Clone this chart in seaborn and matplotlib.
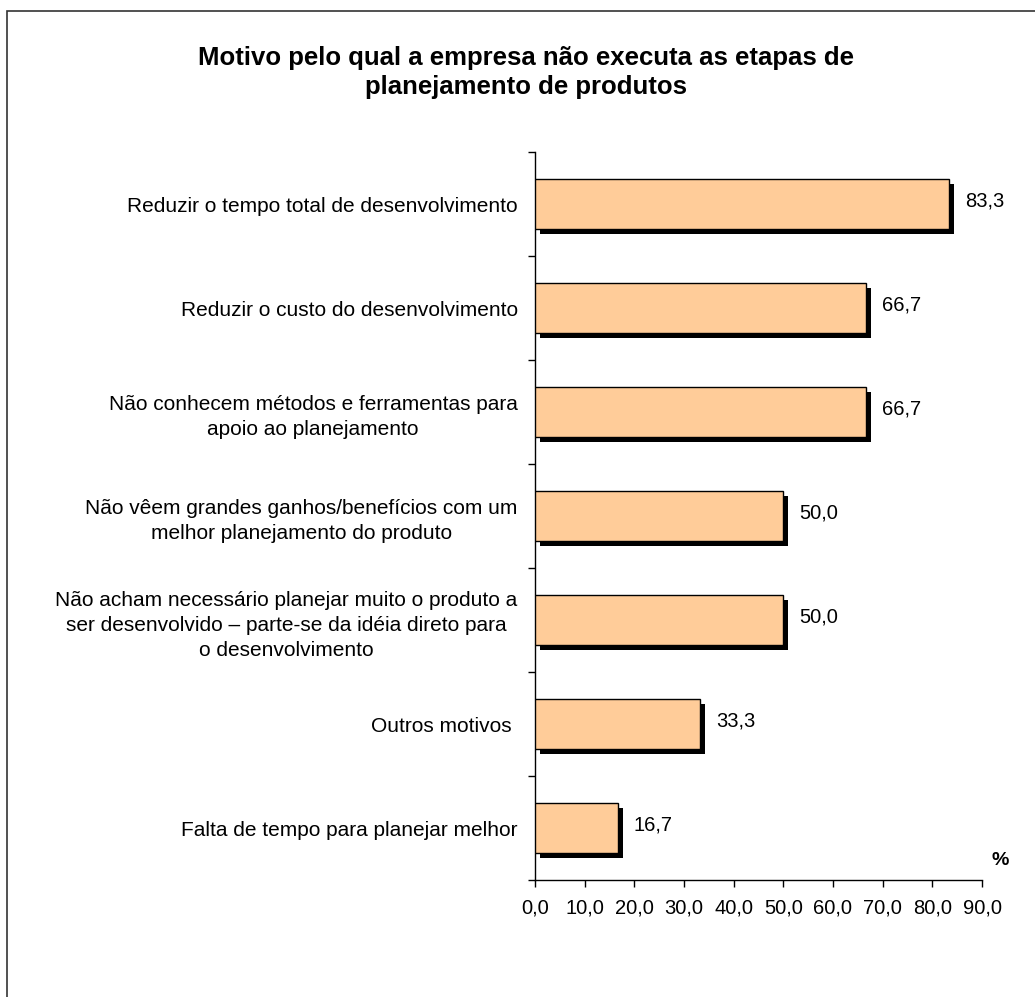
import matplotlib
matplotlib.use("Agg")
import matplotlib.pyplot as plt
from matplotlib.patches import Rectangle
from matplotlib.transforms import ScaledTranslation
from matplotlib.ticker import FixedLocator
import seaborn as sns
import pandas as pd
import numpy as np

categories = [
    "Reduzir o tempo total de desenvolvimento",
    "Reduzir o custo do desenvolvimento",
    "Não conhecem métodos e ferramentas para\napoio ao planejamento",
    "Não vêem grandes ganhos/benefícios com um\nmelhor planejamento do produto",
    "Não acham necessário planejar muito o produto a\nser desenvolvido – parte-se da idéia direto para\no desenvolvimento",
    "Outros motivos ",
    "Falta de tempo para planejar melhor",
]
values = [83.3, 66.7, 66.7, 50.0, 50.0, 33.3, 16.7]
xticks = [0, 10, 20, 30, 40, 50, 60, 70, 80, 90]
xtick_labels = ["0,0", "10,0", "20,0", "30,0", "40,0", "50,0", "60,0", "70,0", "80,0", "90,0"]
title = "Motivo pelo qual a empresa não executa as etapas de\nplanejamento de produtos"

sns.set_theme(style="white")
plt.rcParams["font.family"] = ["Liberation Sans", "DejaVu Sans"]
for k in ["text.color", "xtick.color", "ytick.color", "axes.labelcolor"]:
    plt.rcParams[k] = "black"

W, H = 1035, 997
fig = plt.figure(figsize=(W / 100, H / 100), dpi=100)
ax = fig.add_axes([535 / W, 1 - 880 / H, (982 - 535) / W, (880 - 152) / H])

df = pd.DataFrame({"cat": categories, "val": values})
sns.barplot(data=df, y="cat", x="val", orient="h", color="#FFCC99",
            saturation=1, edgecolor="black", linewidth=1.0, width=0.48, ax=ax, zorder=3)

# drop shadows derived from the drawn bars
shadow_off = ScaledTranslation(5 / 100, -5 / 100, fig.dpi_scale_trans)
for p in list(ax.patches):
    sh = Rectangle(p.get_xy(), p.get_width(), p.get_height(),
                   transform=ax.transData + shadow_off,
                   facecolor="black", edgecolor="black", linewidth=0, zorder=2)
    ax.add_patch(sh)

for i, v in enumerate(values):
    ax.annotate(f"{v:.1f}".replace(".", ","), xy=(v, i), xytext=(11.5, 2),
                textcoords="offset points", va="center", ha="left", fontsize=14.5)

ax.set_xlim(0, 90)
ax.set_ylim(len(categories) - 0.5, -0.5)
ax.set_xticks(xticks)
ax.set_xticklabels(xtick_labels, fontsize=14.5)
ax.tick_params(axis="x", direction="out", length=5, width=1, pad=8, bottom=True)
ax.tick_params(axis="y", which="major", length=0, pad=12.5, labelsize=15)
ax.yaxis.set_minor_locator(FixedLocator(np.arange(-0.5, len(categories), 1.0)))
ax.tick_params(axis="y", which="minor", direction="out", length=5, width=1, left=True)
for lab in ax.get_yticklabels():
    lab.set_multialignment("center")
    lab.set_linespacing(1.4)
ax.set_xlabel("")
ax.set_ylabel("")
for s in ["top", "right"]:
    ax.spines[s].set_visible(False)
for s in ["left", "bottom"]:
    ax.spines[s].set_color("black")
    ax.spines[s].set_linewidth(1.0)
ax.grid(False)

fig.text(1000 / W, 1 - 860 / H, "%", fontsize=14, fontweight="bold", ha="center", va="center")
fig.text(526 / W, 1 - 94 / H, title, fontsize=18.5, fontweight="bold", ha="center", va="baseline",
         linespacing=1.25)

fig.patches.append(Rectangle((6.5 / W, -0.1), 1.2, 1.1 - 10.5 / H, transform=fig.transFigure,
                             fill=False, edgecolor="#333333", linewidth=1.2))

fig.savefig("out.png", dpi=100)
